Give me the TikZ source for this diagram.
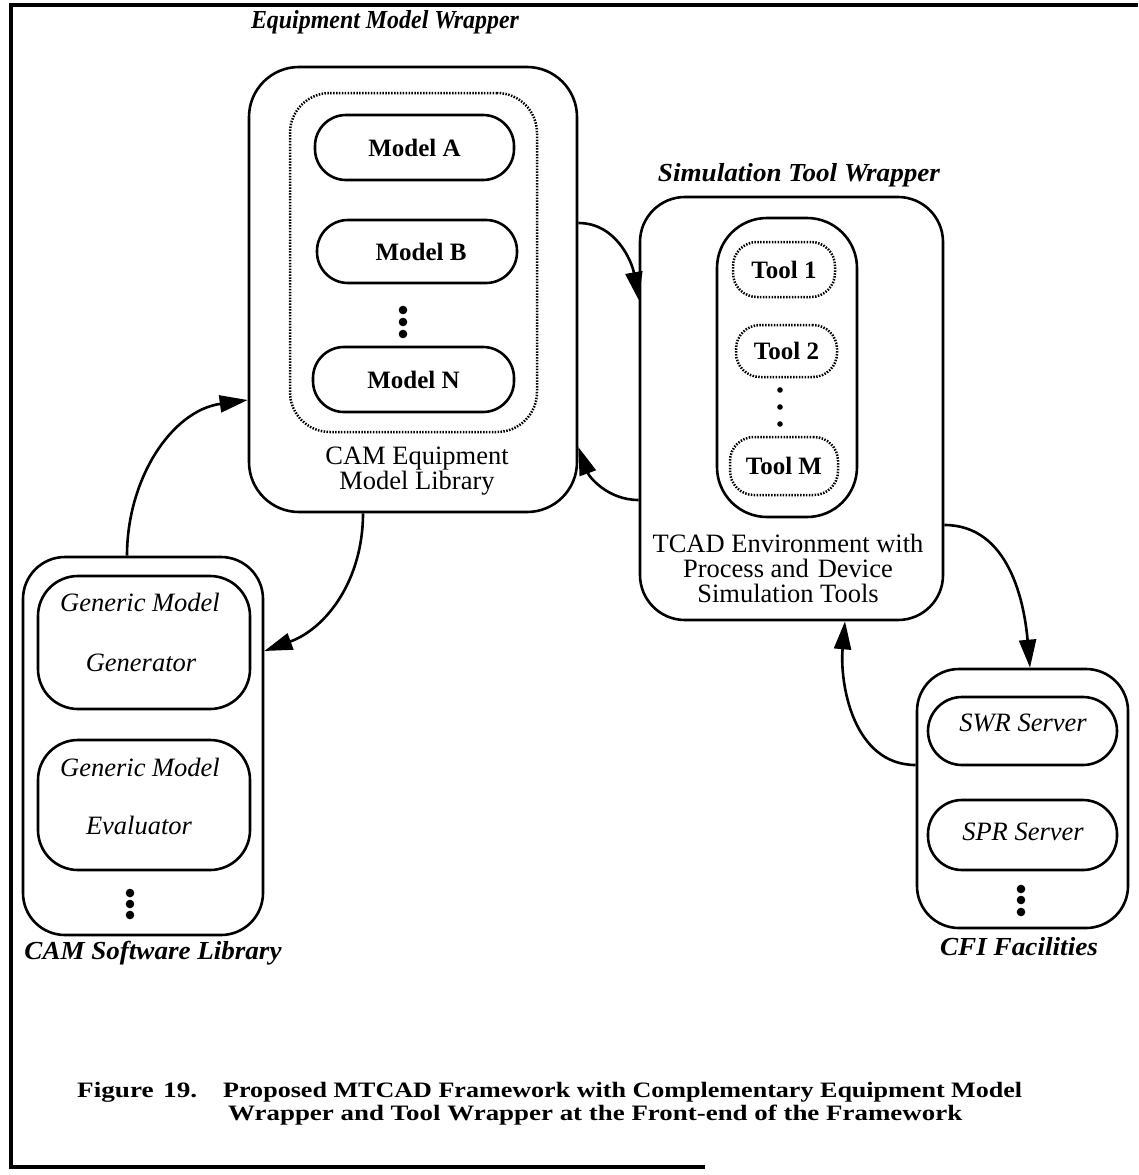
\documentclass[tikz,border=0pt]{standalone}
\usepackage{fontspec}
\usepackage{graphicx}
\setmainfont{Liberation Serif}
\usetikzlibrary{arrows.meta}
\begin{document}
\begin{tikzpicture}[x=1pt,y=-1pt,
  box/.style={draw, line width=2.6pt, rounded corners=#1, inner sep=0pt},
  box/.default=40pt,
  dotbox/.style={draw, line width=2.5pt, dash pattern=on 1.5pt off 1.4pt, rounded corners=#1, inner sep=0pt},
  dotbox/.default=30pt,
  pill/.style={box=31pt, font=\fontsize{25}{25}\selectfont\bfseries},
  toolbox/.style={dotbox=24pt, font=\fontsize{25}{25}\selectfont\bfseries},
  title/.style={inner sep=0pt, font=\fontsize{26}{26}\selectfont\bfseries\itshape},
  plain/.style={inner sep=0pt, align=center, font=\fontsize{26.5}{25}\selectfont},
  itl/.style={inner sep=0pt, font=\fontsize{26.5}{26}\selectfont\itshape},
  captxt/.style={inner sep=0pt, anchor=base west, font=\fontsize{22}{22}\selectfont\bfseries},
  arr/.style={line width=2.6pt, -{Triangle[length=28pt,width=17pt]}},
  bigdot/.style={fill=black},
]
\useasboundingbox (0,0) rectangle (1138,1175);
% frame
\draw[line width=4.5pt] (705,1167) -- (11,1167) -- (11,5) -- (1138,5);

% Equipment Model Wrapper
\node[title] (t1) at (385,22) {\resizebox{268pt}{\height}{Equipment Model Wrapper}};
\node[box=50pt, minimum width=328pt, minimum height=445pt] (emw) at (413,289.5) {};
\node[dotbox=40pt, minimum width=247pt, minimum height=339pt] (lib) at (413.5,262.5) {};
\node[pill, minimum width=199pt, minimum height=65pt] (ma) at (414.5,147.5) {Model A};
\node[pill, minimum width=200pt, minimum height=63pt] (mb) at (417,251.5) {\hspace{8pt}Model B};
\node[pill, minimum width=201pt, minimum height=65pt] (mn) at (413.5,379.5) {Model N};
\fill[bigdot] (403,310) circle (4.3pt) (403,322) circle (4.3pt) (403,334) circle (4.3pt);
\node[plain] (cemt) at (417,471) {CAM Equipment\\Model Library};

% Simulation Tool Wrapper
\node[title] (t2) at (799,175) {\resizebox{282pt}{\height}{Simulation Tool Wrapper}};
\node[box=45pt, minimum width=303pt, minimum height=423pt] (stw) at (791.5,408.5) {};
\node[box=50pt, minimum width=140pt, minimum height=299pt] (tin) at (787,367.5) {};
\node[toolbox, minimum width=102pt, minimum height=55pt] (tl1) at (784,269.5) {Tool 1};
\node[toolbox, minimum width=101pt, minimum height=52pt] (tl2) at (786.5,351) {Tool 2};
\node[toolbox, minimum width=108pt, minimum height=58pt] (tlm) at (784,466) {Tool M};
\fill[bigdot] (780,390) circle (2.8pt) (780,407) circle (2.8pt) (780,424) circle (2.8pt);
\node[plain] (tcad) at (788,568) {TCAD Environment with\\Process and\,\,Device\\Simulation Tools};

% CAM Software Library
\node[box=42pt, minimum width=240pt, minimum height=378pt] (csl) at (143,746) {};
\node[box=40pt, minimum width=212pt, minimum height=133pt] (gen) at (144,642.5) {};
\node[box=40pt, minimum width=212pt, minimum height=130pt] (eva) at (144,805) {};
\node[itl] (g1) at (140,602) {Generic Model};
\node[itl] (g2) at (141,663) {Generator};
\node[itl] (e1) at (140,767) {Generic Model};
\node[itl] (e2) at (139,825) {Evaluator};
\fill[bigdot] (130,893) circle (4.3pt) (130,904) circle (4.3pt) (130,915) circle (4.3pt);
\node[title] (t3) at (153,953) {\resizebox{257pt}{\height}{CAM Software Library}};

% CFI Facilities
\node[box=42pt, minimum width=211pt, minimum height=259pt] (cfi) at (1022.5,798.5) {};
\node[box=34pt, minimum width=189pt, minimum height=68pt] (swr) at (1022.5,731) {};
\node[box=34pt, minimum width=189pt, minimum height=70pt] (spr) at (1022.5,835) {};
\node[itl] (swrt) at (1023,723) {SWR Server};
\node[itl] (sprt) at (1023,832) {SPR Server};
\fill[bigdot] (1021,889) circle (4.3pt) (1021,900) circle (4.3pt) (1021,912) circle (4.3pt);
\node[title] (t4) at (1019,947) {\resizebox{158pt}{\height}{CFI Facilities}};

% connectors
\draw[arr] ([xshift=-16pt]csl.north) to[out=90,in=188] ([yshift=-110.5pt]emw.west);
\draw[arr] ([xshift=-50pt]emw.south) to[out=-90,in=20] ([yshift=95pt]csl.east);
\draw[arr] ([yshift=66.5pt]emw.east) to[out=0,in=100] ([yshift=108.5pt]stw.west);
\draw[arr] ([yshift=-91.5pt]stw.west) to[out=180,in=-70] ([yshift=-157.5pt]emw.east);
\draw[arr] ([yshift=-116.5pt]stw.east) to[out=0,in=95] ([xshift=7.5pt]cfi.north);
\draw[arr] ([yshift=33.5pt]cfi.west) to[out=180,in=-95] ([xshift=53.5pt]stw.south);

% caption
\node[captxt] (c0) at (77,1097) {\resizebox{120pt}{\height}{Figure\hspace{0.35em}19.}};
\node[captxt] (c1) at (223,1097) {\resizebox{799pt}{\height}{Proposed MTCAD Framework with Complementary Equipment Model}};
\node[captxt] (c2) at (228,1120) {\resizebox{734pt}{\height}{Wrapper and Tool Wrapper at the Front-end of the Framework}};
\end{tikzpicture}
\end{document}
